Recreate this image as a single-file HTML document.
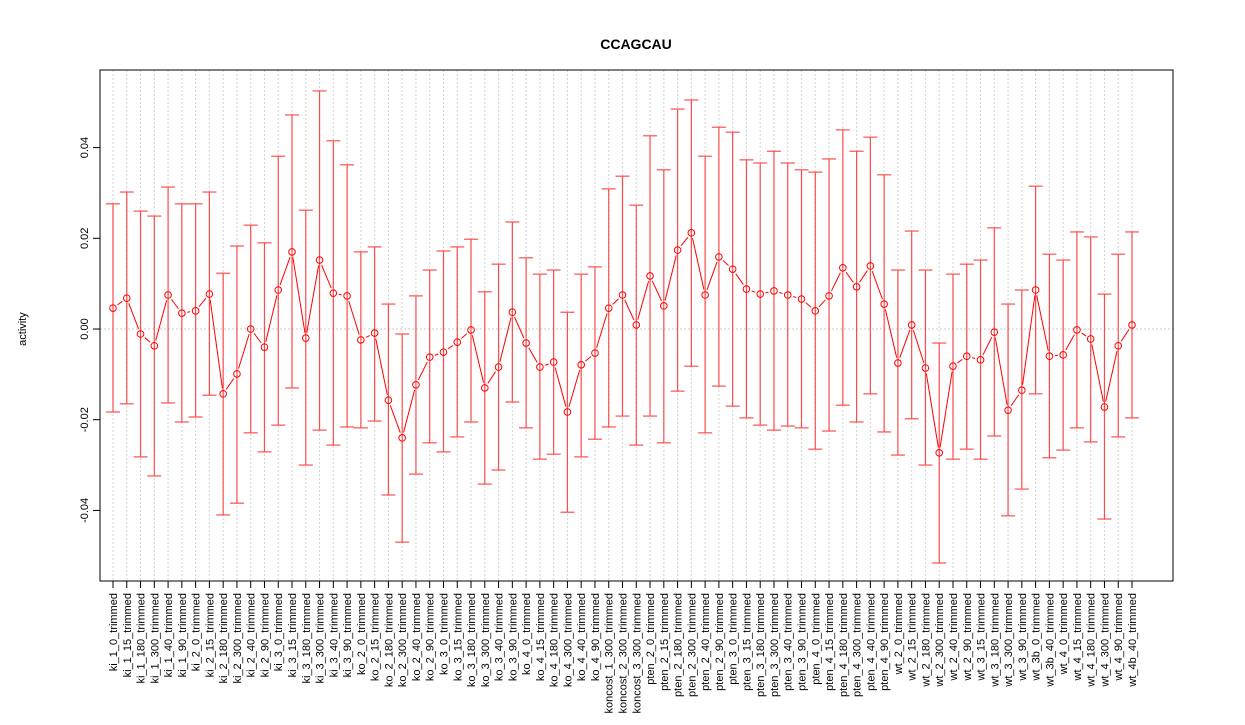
<!DOCTYPE html>
<html><head><meta charset="utf-8"><style>
body{margin:0;background:#fff;}
svg text{font-family:"Liberation Sans",Arial,sans-serif;}
</style></head><body>
<svg id="chart" width="1245" height="720" xmlns="http://www.w3.org/2000/svg">
<rect width="1245" height="720" fill="#fff"/>
<text x="636" y="49" text-anchor="middle" font-size="14" font-weight="bold">CCAGCAU</text>
<text x="0" y="0" transform="translate(26,329) rotate(-90)" text-anchor="middle" font-size="11">activity</text>
<g id="grid"></g>
<g id="bars"></g>
<g id="line"></g>
<g id="axes"></g>
<rect x="100" y="70" width="1073" height="511" fill="none" stroke="#000" stroke-width="1"/>
</svg>
<script>
const categories=["ki_1_0_trimmed","ki_1_15_trimmed","ki_1_180_trimmed","ki_1_300_trimmed","ki_1_40_trimmed","ki_1_90_trimmed","ki_2_0_trimmed","ki_2_15_trimmed","ki_2_180_trimmed","ki_2_300_trimmed","ki_2_40_trimmed","ki_2_90_trimmed","ki_3_0_trimmed","ki_3_15_trimmed","ki_3_180_trimmed","ki_3_300_trimmed","ki_3_40_trimmed","ki_3_90_trimmed","ko_2_0_trimmed","ko_2_15_trimmed","ko_2_180_trimmed","ko_2_300_trimmed","ko_2_40_trimmed","ko_2_90_trimmed","ko_3_0_trimmed","ko_3_15_trimmed","ko_3_180_trimmed","ko_3_300_trimmed","ko_3_40_trimmed","ko_3_90_trimmed","ko_4_0_trimmed","ko_4_15_trimmed","ko_4_180_trimmed","ko_4_300_trimmed","ko_4_40_trimmed","ko_4_90_trimmed","koncost_1_300_trimmed","koncost_2_300_trimmed","koncost_3_300_trimmed","pten_2_0_trimmed","pten_2_15_trimmed","pten_2_180_trimmed","pten_2_300_trimmed","pten_2_40_trimmed","pten_2_90_trimmed","pten_3_0_trimmed","pten_3_15_trimmed","pten_3_180_trimmed","pten_3_300_trimmed","pten_3_40_trimmed","pten_3_90_trimmed","pten_4_0_trimmed","pten_4_15_trimmed","pten_4_180_trimmed","pten_4_300_trimmed","pten_4_40_trimmed","pten_4_90_trimmed","wt_2_0_trimmed","wt_2_15_trimmed","wt_2_180_trimmed","wt_2_300_trimmed","wt_2_40_trimmed","wt_2_90_trimmed","wt_3_15_trimmed","wt_3_180_trimmed","wt_3_300_trimmed","wt_3_90_trimmed","wt_3b_0_trimmed","wt_3b_40_trimmed","wt_4_0_trimmed","wt_4_15_trimmed","wt_4_180_trimmed","wt_4_300_trimmed","wt_4_90_trimmed","wt_4b_40_trimmed"];
const means=[0.0046,0.0068,-0.0011,-0.0037,0.0075,0.0035,0.004,0.0077,-0.0143,-0.0099,0,-0.004,0.0086,0.017,-0.002,0.0152,0.0079,0.0073,-0.0024,-0.0009,-0.0157,-0.024,-0.0123,-0.0062,-0.0051,-0.0029,-0.0002,-0.013,-0.0084,0.0037,-0.0031,-0.0084,-0.0073,-0.0183,-0.0079,-0.0053,0.0046,0.0075,0.0009,0.0117,0.0051,0.0174,0.0212,0.0075,0.0159,0.0132,0.0088,0.0077,0.0084,0.0075,0.0066,0.004,0.0073,0.0135,0.0093,0.0139,0.0055,-0.0075,0.0009,-0.0086,-0.0273,-0.0082,-0.006,-0.0068,-0.0007,-0.0179,-0.0135,0.0086,-0.006,-0.0057,-0.0002,-0.0022,-0.0172,-0.0037,0.0009];
const uppers=[0.0276,0.0302,0.026,0.0249,0.0313,0.0276,0.0276,0.0302,0.0123,0.0183,0.0229,0.019,0.0381,0.0472,0.0262,0.0525,0.0415,0.0362,0.017,0.0181,0.0055,-0.0011,0.0073,0.013,0.0172,0.0181,0.0198,0.0082,0.0143,0.0236,0.0157,0.0121,0.013,0.0037,0.0121,0.0137,0.0309,0.0337,0.0273,0.0426,0.0351,0.0485,0.0505,0.0381,0.0445,0.0434,0.0373,0.0366,0.0392,0.0366,0.0351,0.0346,0.0375,0.0439,0.0392,0.0423,0.034,0.013,0.0216,0.013,-0.0031,0.0121,0.0143,0.0152,0.0223,0.0055,0.0086,0.0315,0.0165,0.0152,0.0214,0.0203,0.0077,0.0165,0.0214];
const lowers=[-0.0183,-0.0165,-0.0282,-0.0324,-0.0163,-0.0205,-0.0194,-0.0146,-0.041,-0.0384,-0.0229,-0.0271,-0.0212,-0.013,-0.03,-0.0223,-0.0256,-0.0216,-0.0218,-0.0203,-0.0366,-0.047,-0.032,-0.0251,-0.0271,-0.0238,-0.0205,-0.0342,-0.0311,-0.0161,-0.0218,-0.0287,-0.0276,-0.0404,-0.0282,-0.0243,-0.0216,-0.0192,-0.0256,-0.0192,-0.0251,-0.0137,-0.0082,-0.0229,-0.0126,-0.017,-0.0196,-0.0212,-0.0223,-0.0214,-0.0218,-0.0265,-0.0225,-0.0168,-0.0205,-0.0143,-0.0227,-0.0278,-0.0198,-0.03,-0.0516,-0.0287,-0.0265,-0.0287,-0.0236,-0.0412,-0.0353,-0.0143,-0.0284,-0.0267,-0.0218,-0.0249,-0.0419,-0.0238,-0.0196];
const yTicks=[-0.04,-0.02,0,0.02,0.04];
const yTickLabels=["-0.04","-0.02","0.00","0.02","0.04"];

const NS="http://www.w3.org/2000/svg";
const X0=113,X1=1132,Y0PIX=329,YSCALE=4535;
function xs(i){return X0+i*(X1-X0)/(categories.length-1);}
function ys(v){return Y0PIX-v*YSCALE;}
function mk(tag,attrs,parent){const e=document.createElementNS(NS,tag);for(const k in attrs)e.setAttribute(k,attrs[k]);parent.appendChild(e);return e;}
const grid=document.getElementById('grid'),bars=document.getElementById('bars'),line=document.getElementById('line'),axes=document.getElementById('axes');
// grid
categories.forEach((c,i)=>{
  const g=mk('line',{x1:xs(i),x2:xs(i),y1:70,y2:581,stroke:'#d3d3d3','stroke-dasharray':'2,2','stroke-width':1},grid);
  
  
});
const zl=mk('line',{x1:100,x2:1173,y1:ys(0),y2:ys(0),stroke:'#c8c8c8','stroke-dasharray':'2,2'},grid);


// error bars
categories.forEach((c,i)=>{
  const x=xs(i),yu=ys(uppers[i]),yl=ys(lowers[i]);
  const g=mk('g',{stroke:'#ff3030','stroke-width':1.2,opacity:0.85},bars);
  
  
  mk('line',{x1:x,x2:x,y1:yu,y2:yl},g);
  mk('line',{x1:x-7,x2:x+7,y1:yu,y2:yu},g);
  mk('line',{x1:x-7,x2:x+7,y1:yl,y2:yl},g);
});
// mean line with gaps
for(let i=0;i<categories.length-1;i++){
  const xa=xs(i),ya=ys(means[i]),xb=xs(i+1),yb=ys(means[i+1]);
  const dx=xb-xa,dy=yb-ya,L=Math.hypot(dx,dy),g=5.5;
  if(L>2*g){
    const s=mk('line',{x1:xa+dx*g/L,y1:ya+dy*g/L,x2:xb-dx*g/L,y2:yb-dy*g/L,stroke:'#ff0000','stroke-width':1},line);
    
    
  }
}
categories.forEach((c,i)=>{
  const p=mk('circle',{cx:xs(i),cy:ys(means[i]),r:3.3,fill:'none',stroke:'#ff0000','stroke-width':1},line);
  
  
});
// y axis
yTicks.forEach((v,i)=>{
  const t=mk('line',{x1:93,x2:100,y1:ys(v),y2:ys(v),stroke:'#000'},axes);
  
  
  const l=mk('text',{transform:`translate(88,${ys(v)}) rotate(-90)`,'text-anchor':'middle','font-size':11},axes);
  l.textContent=yTickLabels[i];
  
  
});
// x axis
categories.forEach((c,i)=>{
  const t=mk('line',{x1:xs(i),x2:xs(i),y1:581,y2:588,stroke:'#000'},axes);
  
  
  const l=mk('text',{transform:`translate(${xs(i)+4},593) rotate(-90)`,'text-anchor':'end','font-size':11},axes);
  l.textContent=c;
  
  
});
</script>
</body></html>
